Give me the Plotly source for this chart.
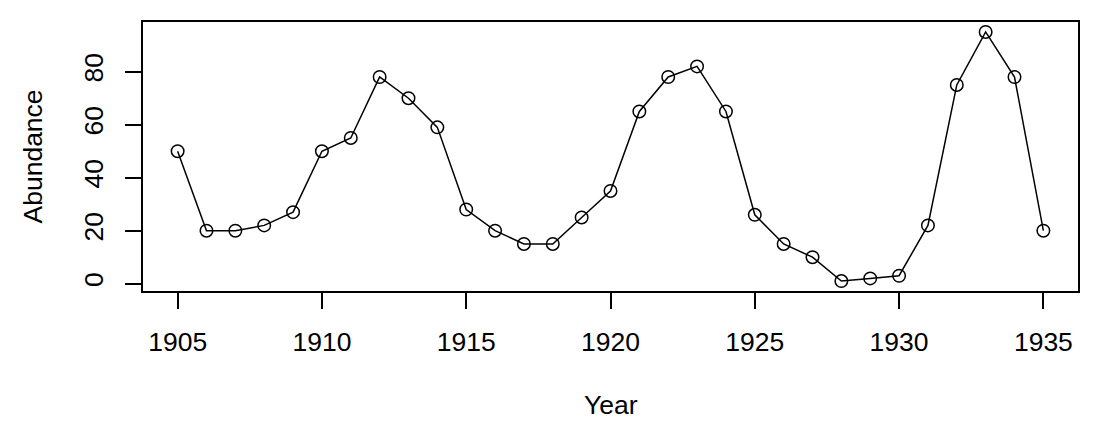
import plotly.graph_objects as go

years = list(range(1905, 1936))
abundance = [50, 20, 20, 22, 27, 50, 55, 78, 70, 59, 28, 20, 15, 15, 25, 35,
             65, 78, 82, 65, 26, 15, 10, 1, 2, 3, 22, 75, 95, 78, 20]
x_ticks = [1905, 1910, 1915, 1920, 1925, 1930, 1935]
y_ticks = [0, 20, 40, 60, 80]

OFF = 8  # page body margin
W, H = 1107 - OFF, 428 - OFF
L, R, T, B = 143 - OFF, 29, 22 - OFF, 137
FONT = "Liberation Sans, Arial, Helvetica, sans-serif"
FS = 26.5

# R-style 4% range extension
xmin, xmax = min(years), max(years)
ymin, ymax = min(abundance), max(abundance)
dx = (xmax - xmin) * 0.04
dy = (ymax - ymin) * 0.04

fig = go.Figure()
fig.add_trace(go.Scatter(
    x=years, y=abundance, mode="lines+markers",
    line=dict(color="black", width=1.5),
    marker=dict(symbol="circle-open", size=12.5, color="black", line=dict(width=1.5)),
    showlegend=False,
))

axis_common = dict(
    showgrid=False, zeroline=False, showline=True, mirror=True,
    linecolor="black", linewidth=1.5, ticks="outside", ticklen=16,
    tickwidth=1.5, tickcolor="black",
    tickfont=dict(family=FONT, size=FS, color="black"),
)
fig.update_xaxes(range=[xmin - dx, xmax + dx], tickvals=x_ticks,
                 ticktext=[str(v) for v in x_ticks], ticklabelstandoff=10,
                 **axis_common)
fig.update_yaxes(range=[ymin - dy, ymax + dy], tickvals=y_ticks,
                 ticktext=[str(v) for v in y_ticks], tickangle=-90,
                 ticklabelstandoff=12, **axis_common)

pw = W - L - R
ph = H - T - B
fig.add_annotation(text="Year", xref="paper", yref="paper",
                   x=(611 - OFF - L) / pw, y=(H - B - (405 - OFF)) / ph,
                   xanchor="center", yanchor="middle", showarrow=False,
                   font=dict(family=FONT, size=FS, color="black"))
fig.add_annotation(text="Abundance", xref="paper", yref="paper",
                   x=(32 - OFF - L) / pw, y=0.5, textangle=-90,
                   xanchor="center", yanchor="middle", showarrow=False,
                   font=dict(family=FONT, size=FS, color="black"))

fig.update_layout(
    width=W, height=H, margin=dict(l=L, r=R, t=T, b=B, pad=0),
    plot_bgcolor="white", paper_bgcolor="white",
    font=dict(family=FONT, color="black"),
)
fig.write_html("out.html")
